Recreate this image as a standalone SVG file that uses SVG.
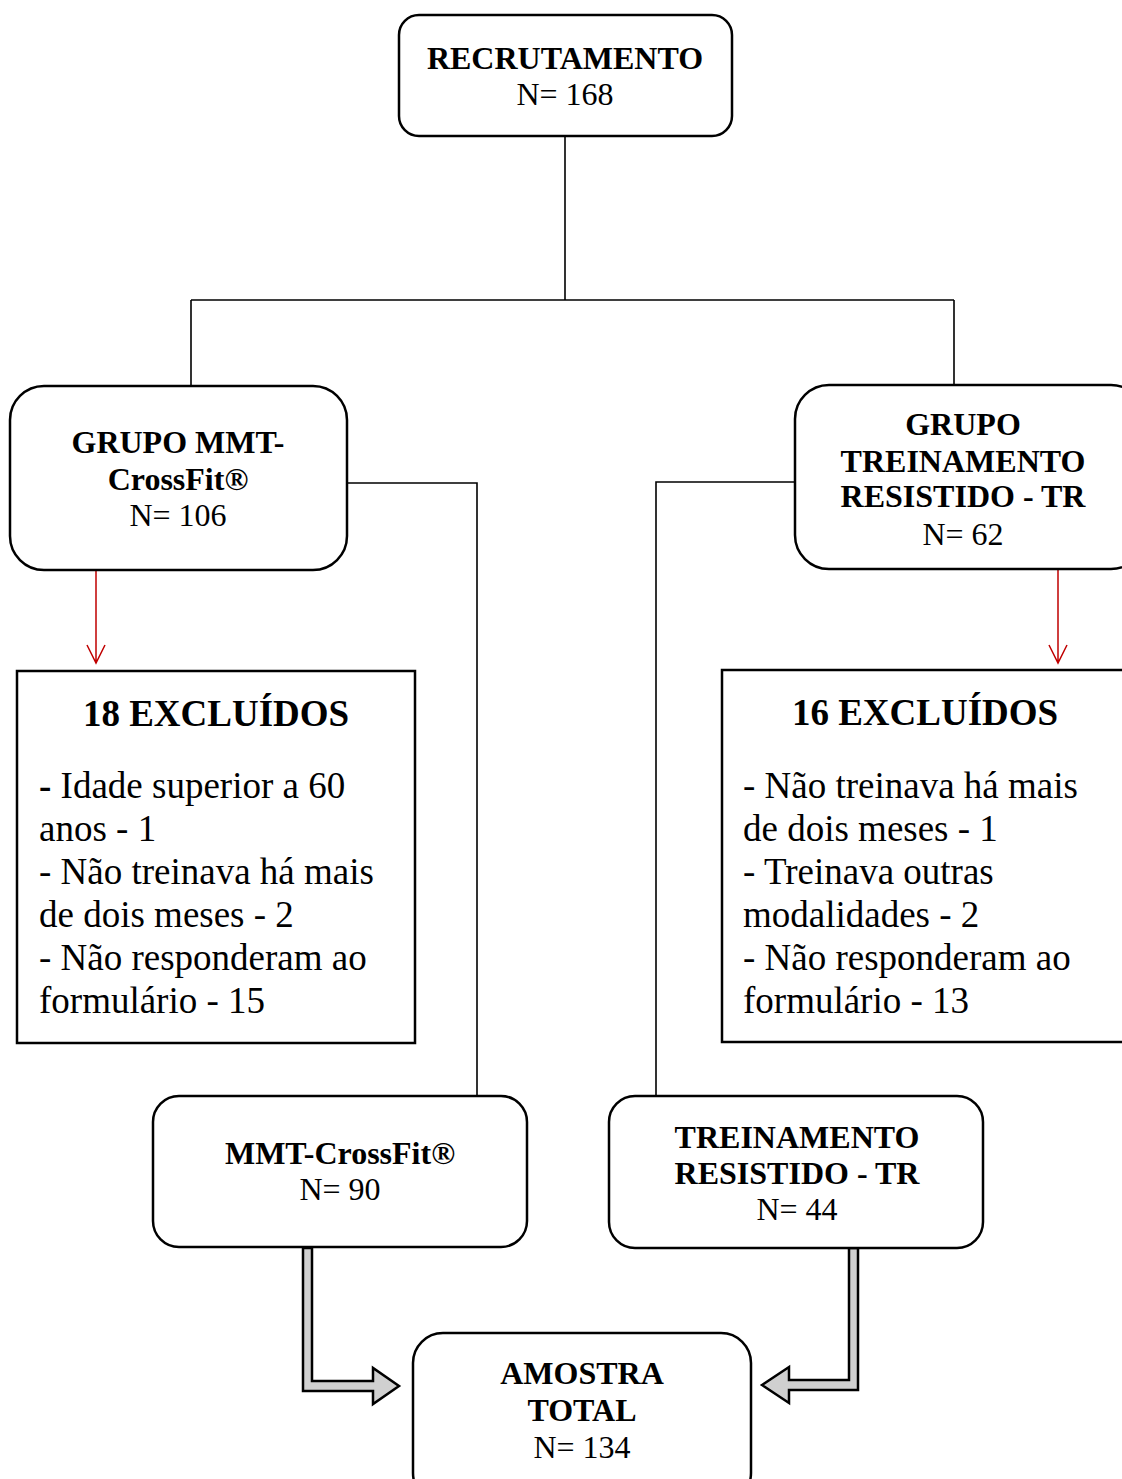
<svg xmlns="http://www.w3.org/2000/svg" width="1122" height="1479" viewBox="0 0 1122 1479">
<style>
.box{fill:#fff;stroke:#000;stroke-width:2.5}
.ex{fill:#fff;stroke:#000;stroke-width:2.5}
.t{font-family:"Liberation Serif","Times New Roman",serif;font-size:32px;fill:#000;text-anchor:middle}
.b{font-weight:bold}
.tl{font-family:"Liberation Serif","Times New Roman",serif;font-size:37px;fill:#000}
.ttl{font-family:"Liberation Serif","Times New Roman",serif;font-size:37px;font-weight:bold;fill:#000;text-anchor:middle}
.ln{fill:none;stroke:#000;stroke-width:1.6}
.red{fill:none;stroke:#c00000;stroke-width:1.5}
.dbl{fill:#d0d0d0;stroke:#000;stroke-width:2.5;stroke-linejoin:miter}
</style>
<rect width="1122" height="1479" fill="#fff"/>

<g id="connectors">
<path class="ln" d="M565,137 V300 M191,300 H954 M191,300 V386 M954,300 V385"/>
<path class="ln" d="M342,483 H477 V1096"/>
<path class="ln" d="M795,482 H656 V1097"/>
<path class="red" d="M96,568 V663 M87,645 L96,663 L105,645"/>
<path class="red" d="M1058,568 V663 M1049,645 L1058,663 L1067,645"/>
<polygon class="dbl" points="303,1248 312,1248 312,1381 373,1381 373,1368 399,1386 373,1404 373,1391 303,1391"/>
<polygon class="dbl" points="849,1248 858,1248 858,1390 789,1390 789,1403 762,1385 789,1367 789,1380 849,1380"/>
</g>

<g id="recrutamento">
<rect class="box" x="399" y="15" width="333" height="121" rx="20"/>
<text class="t b" x="565" y="69">RECRUTAMENTO</text>
<text class="t" x="565" y="105">N= 168</text>
</g>

<g id="grupo-mmt">
<rect class="box" x="10" y="386" width="337" height="184" rx="34"/>
<text class="t b" x="178" y="453">GRUPO MMT-</text>
<text class="t b" x="178" y="490">CrossFit®</text>
<text class="t" x="178" y="526">N= 106</text>
</g>

<g id="grupo-tr">
<rect class="box" x="795" y="385" width="350" height="184" rx="34"/>
<text class="t b" x="963" y="435">GRUPO</text>
<text class="t b" x="963" y="472">TREINAMENTO</text>
<text class="t b" x="963" y="507">RESISTIDO - TR</text>
<text class="t" x="963" y="545">N= 62</text>
</g>

<g id="excluidos-18">
<rect class="ex" x="17" y="671" width="398" height="372"/>
<text class="ttl" x="216" y="726">18 EXCLUÍDOS</text>
<text class="tl" x="39" y="798"><tspan font-weight="bold">-</tspan> Idade superior a 60</text>
<text class="tl" x="39" y="841">anos - 1</text>
<text class="tl" x="39" y="884">- Não treinava há mais</text>
<text class="tl" x="39" y="927">de dois meses - 2</text>
<text class="tl" x="39" y="970">- Não responderam ao</text>
<text class="tl" x="39" y="1013">formulário - 15</text>
</g>

<g id="excluidos-16">
<rect class="ex" x="722" y="670" width="420" height="372"/>
<text class="ttl" x="925" y="725">16 EXCLUÍDOS</text>
<text class="tl" x="743" y="798">- Não treinava há mais</text>
<text class="tl" x="743" y="841">de dois meses - 1</text>
<text class="tl" x="743" y="884">- Treinava outras</text>
<text class="tl" x="743" y="927">modalidades - 2</text>
<text class="tl" x="743" y="970">- Não responderam ao</text>
<text class="tl" x="743" y="1013">formulário - 13</text>
</g>

<g id="mmt-crossfit">
<rect class="box" x="153" y="1096" width="374" height="151" rx="26"/>
<text class="t b" x="340" y="1164">MMT-CrossFit®</text>
<text class="t" x="340" y="1200">N= 90</text>
</g>

<g id="treinamento-resistido">
<rect class="box" x="609" y="1096" width="374" height="152" rx="26"/>
<text class="t b" x="797" y="1148">TREINAMENTO</text>
<text class="t b" x="797" y="1184">RESISTIDO - TR</text>
<text class="t" x="797" y="1220">N= 44</text>
</g>

<g id="amostra-total">
<rect class="box" x="413" y="1333" width="338" height="170" rx="30"/>
<text class="t b" x="582" y="1384">AMOSTRA</text>
<text class="t b" x="582" y="1421">TOTAL</text>
<text class="t" x="582" y="1458">N= 134</text>
</g>
</svg>
